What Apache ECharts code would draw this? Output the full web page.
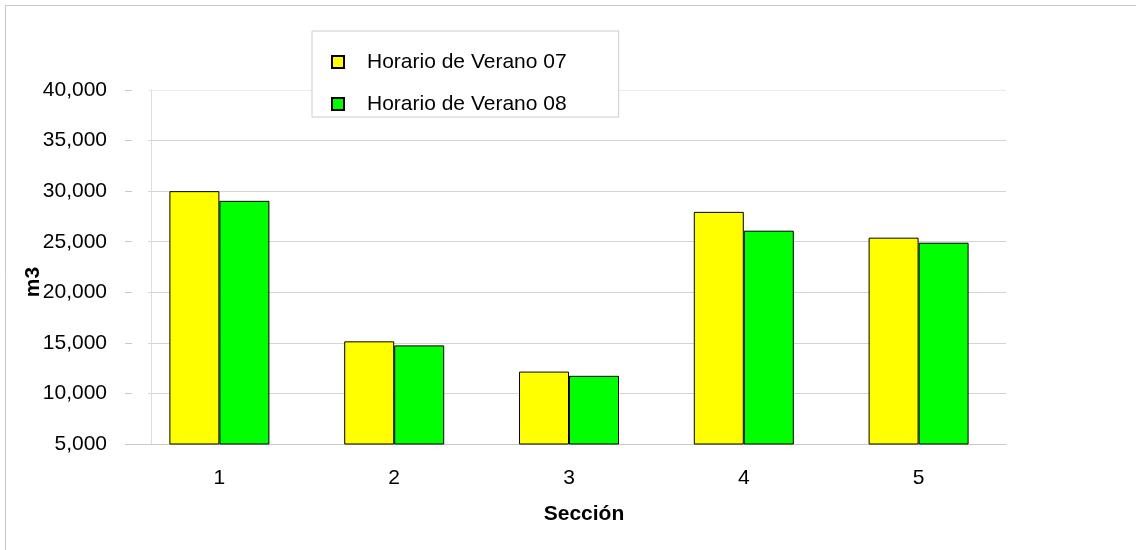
<!DOCTYPE html>
<html>
<head>
<meta charset="utf-8">
<script src="https://cdn.jsdelivr.net/npm/echarts@6/dist/echarts.min.js"></script>
<style>
    html, body { margin: 0; padding: 0; background: #fff; }
    #chart { width: 1136px; height: 550px; }
</style>
</head>
<body>
<div id="chart"></div>
<script>
    // datos
    const secciones = ['1', '2', '3', '4', '5']
    const verano07 = [30000, 15150, 12160, 27950, 25400]
    const verano08 = [29040, 14750, 11740, 26090, 24900]
    const nombres = ['Horario de Verano 07', 'Horario de Verano 08']

    const fuente = 'Liberation Sans, Arial, sans-serif'
    const fmt = v => v.toLocaleString('en-US')

    const myChart = echarts.init(document.getElementById('chart'))

    const options = {
        animation: false,
        backgroundColor: '#fff',
        textStyle: { fontFamily: fuente, color: '#000' },
        graphic: [
            {
                type: 'rect',
                shape: { x: 5.5, y: 5.5, width: 1200, height: 600 },
                style: { fill: 'none', stroke: '#c8c8c8', lineWidth: 1 },
                silent: true
            }
        ],
        legend: {
            data: nombres,
            orient: 'vertical',
            left: 312,
            top: 31,
            padding: [20, 52, 2, 19],
            itemGap: 20,
            itemWidth: 12,
            itemHeight: 12,
            icon: 'rect',
            borderColor: '#cccccc',
            borderWidth: 1,
            backgroundColor: '#fff',
            z: 10,
            textStyle: { fontSize: 21, lineHeight: 22, color: '#000', fontFamily: fuente, padding: [0, 0, 0, 18] }
        },
        grid: [
            { left: 132, right: 130, top: 90, bottom: 106 },
            { left: 148, right: 130, top: 90, bottom: 106 }
        ],
        xAxis: [
            {
                type: 'category',
                data: secciones,
                name: 'Sección',
                nameLocation: 'middle',
                nameGap: 60,
                nameMoveOverlap: false,
                nameTextStyle: { fontSize: 21, fontWeight: 'bold', color: '#000', padding: [0, 0, 0, 30] },
                axisLine: { lineStyle: { color: '#c8c8c8' } },
                axisTick: { length: 6, lineStyle: { color: '#c8c8c8' } },
                axisLabel: { fontSize: 21, color: '#000', margin: 24 }
            },
            {
                type: 'value',
                gridIndex: 1,
                show: false
            }
        ],
        yAxis: [
            {
                type: 'value',
                min: 5000,
                max: 40000,
                interval: 5000,
                name: 'm3',
                nameLocation: 'middle',
                nameGap: 88,
                nameMoveOverlap: false,
                nameTextStyle: { fontSize: 21, fontWeight: 'bold', color: '#000', padding: [0, 30, 0, 0] },
                axisLine: { show: false },
                axisTick: { show: true, length: 7, lineStyle: { color: '#c8c8c8' } },
                axisLabel: { fontSize: 21, color: '#000', margin: 25, formatter: fmt },
                splitLine: { show: false }
            },
            {
                type: 'value',
                gridIndex: 1,
                min: 5000,
                max: 40000,
                interval: 5000,
                offset: -3,
                axisLine: { show: true, lineStyle: { color: '#dcdcdc' } },
                axisTick: { show: false },
                axisLabel: { show: false },
                splitLine: {
                    show: true,
                    lineStyle: { color: ['#d4d4d4', '#d4d4d4', '#d4d4d4', '#d4d4d4', '#d4d4d4', '#d4d4d4', '#d4d4d4', '#ececec'] }
                }
            }
        ],
        series: [
            {
                name: nombres[0],
                type: 'bar',
                data: verano07,
                barWidth: 50,
                barGap: '0%',
                itemStyle: { color: '#ffff00', borderColor: '#000', borderWidth: 1 }
            },
            {
                name: nombres[1],
                type: 'bar',
                data: verano08,
                barWidth: 50,
                itemStyle: { color: '#00ff00', borderColor: '#000', borderWidth: 1 }
            }
        ]
    }

    myChart.setOption(options)
</script>
</body>
</html>
